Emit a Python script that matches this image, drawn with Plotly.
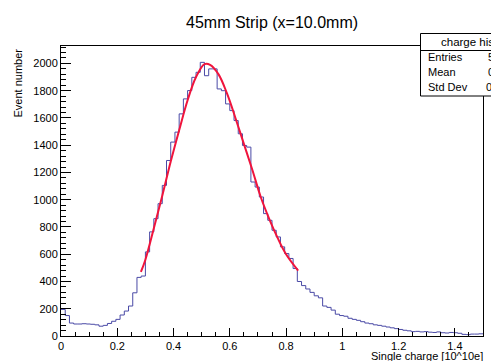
import numpy as np
import plotly.graph_objects as go

# Histogram of single-strip charge, 100 bins on [0, 1.5]
bin_lo = 0.0
bin_width = 0.015
counts = [
    195, 150, 95, 88, 88, 90, 88, 86, 82, 72,
    78, 92, 108, 122, 154, 183, 220, 317, 430, 440,
    617, 764, 861, 971, 1105, 1288, 1423, 1496, 1630, 1740,
    1801, 1898, 1935, 2008, 1910, 1960, 1960, 1813, 1800, 1703,
    1654, 1581, 1484, 1398, 1386, 1130, 1093, 1020, 898, 849,
    776, 727, 654, 605, 569, 495, 400, 370, 345, 320,
    295, 280, 220, 210, 190, 160, 150, 145, 130, 122,
    115, 105, 95, 90, 82, 78, 72, 66, 60, 54,
    48, 42, 38, 32, 34, 30, 32, 28, 26, 30,
    24, 22, 26, 24, 20, 12, 10, 14, 14, 16,
]

# Fitted curve, sampled over the fit range
fit_x = [0.284, 0.30, 0.33, 0.36, 0.39, 0.42, 0.45, 0.48, 0.51, 0.53,
         0.56, 0.59, 0.62, 0.65, 0.68, 0.71, 0.74, 0.77, 0.80, 0.843]
fit_y = [470, 560, 790, 1030, 1280, 1510, 1730, 1900, 1995, 1990,
         1920, 1780, 1600, 1410, 1220, 1020, 860, 720, 600, 480]

x_ticks = [0, 0.2, 0.4, 0.6, 0.8, 1.0, 1.2, 1.4]
y_ticks = list(range(0, 2001, 200))

title = "45mm Strip (x=10.0mm)"
x_title = "Single charge [10^10e]"
y_title = "Event number"
stats_name = "charge hist"

counts_arr = np.array(counts, dtype=float)
edges = bin_lo + bin_width * np.arange(len(counts) + 1)
centers = 0.5 * (edges[:-1] + edges[1:])
entries = int(counts_arr.sum())
mean = float((counts_arr * centers).sum() / counts_arr.sum())
std = float(np.sqrt((counts_arr * (centers - mean) ** 2).sum() / counts_arr.sum()))

W, H = 491, 361
L, R, T, B = 61, 8, 46, 25
PW, PH = W - L - R, H - T - B


def px(x):
    return (x - L) / PW


def py(y):
    return (H - B - y) / PH


FONT = "Liberation Sans, Arial, Helvetica, sans-serif"

fig = go.Figure()
fig.add_trace(go.Scatter(
    x=edges, y=list(counts) + [counts[-1]],
    mode="lines", line=dict(color="#4a4aa6", width=1, shape="hv"),
    hoverinfo="skip", showlegend=False,
))
fig.add_trace(go.Scatter(
    x=fit_x, y=fit_y, mode="lines",
    line=dict(color="#f0143c", width=2, shape="spline", smoothing=1.0),
    hoverinfo="skip", showlegend=False,
))

axis_common = dict(
    showgrid=False, zeroline=False, showline=True, mirror=True,
    linecolor="black", linewidth=1, ticks="inside", tickcolor="black",
    tickwidth=1,
)
fig.update_xaxes(
    **axis_common, range=[0, 1.5], tickvals=x_ticks,
    ticktext=[("%g" % v) for v in x_ticks], ticklen=8,
    tickfont=dict(family=FONT, size=11, color="black"),
    minor=dict(dtick=0.05, ticks="inside", ticklen=4, tickcolor="black"),
)
fig.update_yaxes(
    **axis_common, range=[0, 2128], tickvals=y_ticks, ticklen=10,
    tickfont=dict(family=FONT, size=11, color="black"),
    minor=dict(dtick=40, ticks="inside", ticklen=5, tickcolor="black"),
)

annotations = [
    dict(text=title, x=0.5, y=py(23), xref="paper", yref="paper",
         showarrow=False, font=dict(family=FONT, size=16, color="black"),
         xanchor="center", yanchor="middle"),
    dict(text=x_title, x=px(485), y=py(356), xref="paper", yref="paper",
         showarrow=False, font=dict(family=FONT, size=11, color="black"),
         xanchor="right", yanchor="middle"),
    dict(text=y_title, x=px(17), y=py(47), xref="paper", yref="paper",
         showarrow=False, textangle=-90,
         font=dict(family=FONT, size=11, color="black"),
         xanchor="center", yanchor="top"),
    dict(text=stats_name, x=px(439), y=py(42), xref="paper", yref="paper",
         showarrow=False, font=dict(family=FONT, size=11.5, color="black"),
         xanchor="left", yanchor="middle"),
]
for label, value, lx, vx, ly in [
    ("Entries", "%d" % entries, 426, 486, 57),
    ("Mean", "%.4f" % mean, 426, 486, 72),
    ("Std Dev", "%.4f" % std, 426, 484, 87),
]:
    annotations.append(dict(text=label, x=px(lx), y=py(ly), xref="paper",
                            yref="paper", showarrow=False,
                            font=dict(family=FONT, size=11, color="black"),
                            xanchor="left", yanchor="middle"))
    annotations.append(dict(text=value, x=px(vx), y=py(ly), xref="paper",
                            yref="paper", showarrow=False,
                            font=dict(family=FONT, size=11, color="black"),
                            xanchor="left", yanchor="middle"))

# Statistics box, running past the right edge of the canvas
shapes = [
    dict(type="rect", xref="paper", yref="paper", x0=px(420.5), x1=px(560),
         y0=py(96), y1=py(33.5), line=dict(color="black", width=1),
         fillcolor="white", layer="above"),
    dict(type="line", xref="paper", yref="paper", x0=px(420.5), x1=px(560),
         y0=py(50.5), y1=py(50.5), line=dict(color="black", width=1),
         layer="above"),
]

fig.update_layout(
    width=W, height=H, margin=dict(l=L, r=R, t=T, b=B, pad=0),
    paper_bgcolor="white", plot_bgcolor="white",
    annotations=annotations, shapes=shapes,
)
fig.write_html("out.html")
